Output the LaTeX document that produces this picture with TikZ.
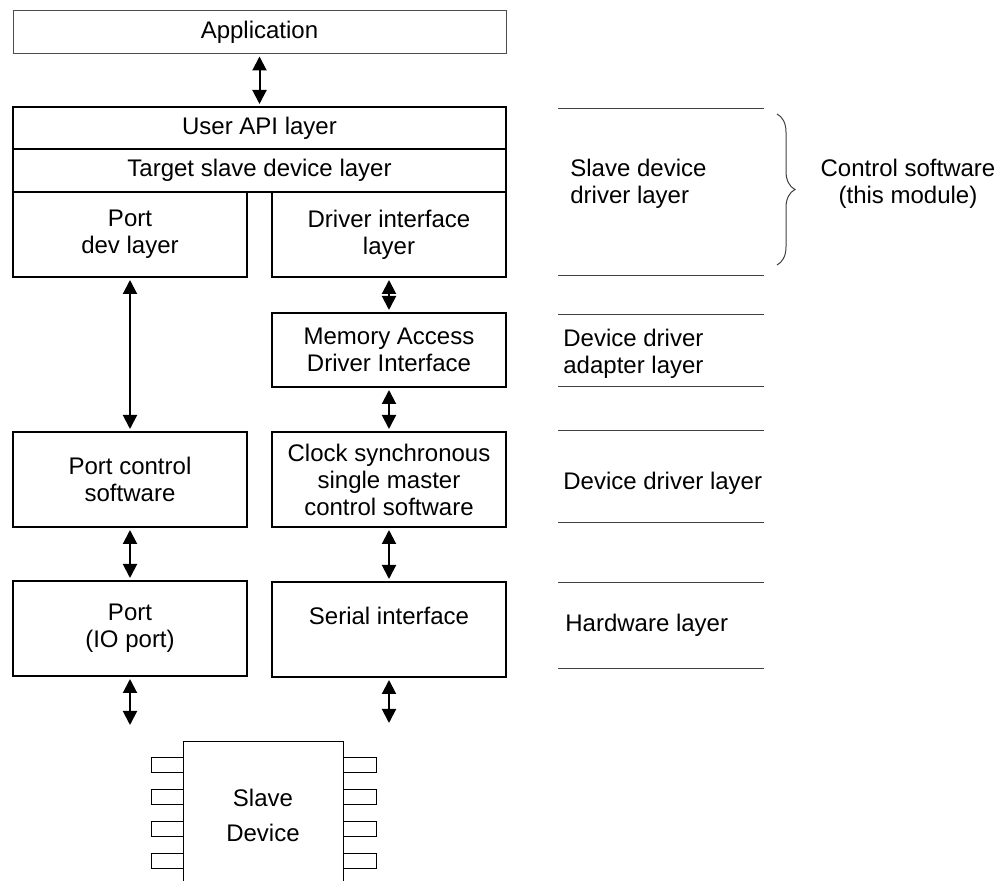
\documentclass[tikz,border=0pt]{standalone}
\usepackage{fontspec}
\setmainfont{Liberation Sans}
\usetikzlibrary{arrows.meta,decorations.pathreplacing}
\tikzset{
swbox/.style 2 args={draw, line width=1pt, align=center, inner sep=0pt, minimum width=#1*0.5pt, minimum height=#2*0.5pt},
duplex/.style={{Triangle[width=7pt,length=7pt]}-{Triangle[width=7pt,length=7pt]}, line width=1pt, shorten <=1pt, shorten >=1pt},
sepline/.style={line width=0.5pt, black!75},
laytext/.style={anchor=west, align=left, inner sep=0pt}
}
\def\drawPins{
\foreach \i in {0,...,3} {
\draw[line width=0.5pt] (151,758+31.7*\i) rectangle (183,773+31.7*\i);
\draw[line width=0.5pt] (343,758+31.7*\i) rectangle (376,773+31.7*\i);
}
}
\begin{document}
\begin{tikzpicture}[x=0.5pt, y=-0.5pt, font=\fontsize{12pt}{13.5pt}\selectfont]
\useasboundingbox (0,0) rectangle (997,881);
\node[swbox={493}{43}, line width=0.5pt, draw=black!70] (app) at (259.5,32.5) {Application};
\node[swbox={493}{42}] (api) at (259.5,128) {User API layer};
\node[swbox={493}{43}] (tgt) at (259.5,170.5) {Target slave device layer};
\node[swbox={234}{85}] (pdev) at (130,234.5) {Port\\dev layer};
\node[swbox={234}{85}] (dif) at (389,234.5) {Driver interface\\layer};
\node[swbox={234}{74}] (mad) at (389,350) {Memory Access\\Driver Interface};
\node[swbox={234}{95}] (pcs) at (130,479.5) {Port control\\software};
\node[swbox={234}{95}] (clk) at (389,479.5) {Clock synchronous\\single master\\control software};
\node[swbox={234}{95}] (port) at (130,628.5) {Port\\(IO port)};
\node[swbox={234}{95}] (ser) at (389,629.5) {Serial interface\\\mbox{}};
\coordinate (pin1) at (130,727);
\coordinate (pin2) at (389,725);
\draw[duplex] (app.south) -- (api.north);
\draw[duplex] (pdev.south) -- (pcs.north);
\draw[duplex] (dif.south) -- (mad.north);
\draw[duplex] (mad.south) -- (clk.north);
\draw[duplex] (pcs.south) -- (port.north);
\draw[duplex] (clk.south) -- (ser.north);
\draw[duplex] (port.south) -- (pin1);
\draw[duplex] (ser.south) -- (pin2);
\draw[line width=0.5pt] (183,881) -- (183,742) -- (343,742) -- (343,881);
\drawPins
\node[align=center] (chip) at (263,815) {Slave\\[4pt]Device};
\foreach \y in {109,276,315,387,431,523,583,669}
\draw[sepline] (558,\y) -- (764,\y);
\node[laytext] (sdd) at (570,184) {Slave device\\driver layer};
\node[laytext] (dda) at (563,353.5) {Device driver\\adapter layer};
\node[laytext] (ddl) at (563,483) {Device driver layer};
\node[laytext] (hwl) at (565,625) {Hardware layer};
\draw[sepline, decorate, decoration={brace, amplitude=9pt}] (777,114) -- (777,265);
\node[align=center] (ctl) at (908,184) {Control software\\(this module)};
\end{tikzpicture}
\end{document}
